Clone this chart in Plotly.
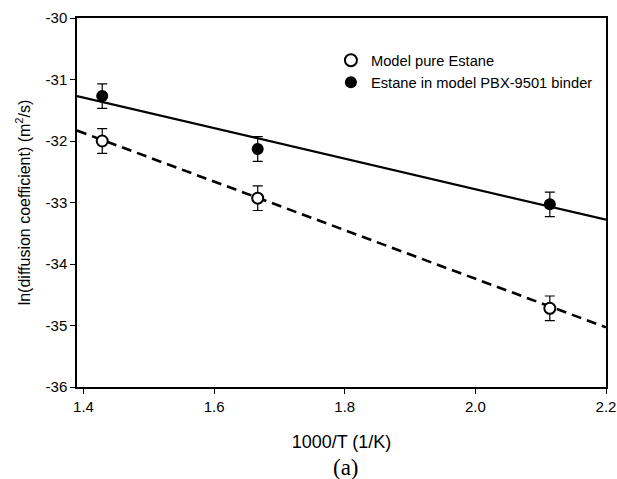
import plotly.graph_objects as go

# Data
x_T = [1.4286, 1.6667, 2.114]
pure_y = [-32.0, -32.93, -34.72]
pure_err = [0.2, 0.2, 0.2]
binder_y = [-31.27, -32.13, -33.03]
binder_err = [0.2, 0.2, 0.2]

fit_x = [1.39, 2.2]
pure_fit_y = [-31.83, -35.03]
binder_fit_y = [-31.27, -33.28]

x_ticks = [1.4, 1.6, 1.8, 2.0, 2.2]
x_ticklabels = ["1.4", "1.6", "1.8", "2.0", "2.2"]
y_ticks = [-36, -35, -34, -33, -32, -31, -30]
y_ticklabels = ["-36", "-35", "-34", "-33", "-32", "-31", "-30"]

FONT = "Liberation Sans, Arial, sans-serif"

fig = go.Figure()

fig.add_trace(go.Scatter(x=fit_x, y=binder_fit_y, mode="lines",
                         line=dict(color="black", width=2.2), showlegend=False, hoverinfo="skip"))
fig.add_trace(go.Scatter(x=fit_x, y=pure_fit_y, mode="lines",
                         line=dict(color="black", width=2.6, dash="10px,6px"),
                         showlegend=False, hoverinfo="skip"))

fig.add_trace(go.Scatter(
    x=x_T, y=pure_y, mode="markers", name="Model pure Estane",
    marker=dict(symbol="circle", size=11, color="white", line=dict(color="black", width=2)),
    error_y=dict(type="data", array=pure_err, visible=True, color="black", thickness=1.2, width=5),
))
fig.add_trace(go.Scatter(
    x=x_T, y=binder_y, mode="markers", name="Estane in model PBX-9501 binder",
    marker=dict(symbol="circle", size=12, color="black", line=dict(color="black", width=0)),
    error_y=dict(type="data", array=binder_err, visible=True, color="black", thickness=1.2, width=5),
))

axis_common = dict(
    showline=True, linecolor="black", linewidth=1.5, mirror=True,
    ticks="outside", ticklen=5, tickwidth=1.2, tickcolor="black",
    showgrid=False, zeroline=False, ticklabeloverflow="allow",
    tickfont=dict(family=FONT, size=15, color="black"),
)

fig.update_xaxes(range=[1.39, 2.2], tickvals=x_ticks, ticktext=x_ticklabels,
                 title=dict(text="1000/T (1/K)", font=dict(family=FONT, size=18, color="black"), standoff=22),
                 **axis_common)
fig.update_yaxes(range=[-36, -30], tickvals=y_ticks, ticktext=y_ticklabels,
                 title=dict(text="ln(diffusion coefficient) (m<sup>2</sup>/s)",
                            font=dict(family=FONT, size=16, color="black"), standoff=11),
                 **axis_common)

fig.add_annotation(text="(a)", xref="paper", yref="paper", x=0.0, y=-0.218,
                   xshift=269, xanchor="center", yanchor="middle", showarrow=False,
                   font=dict(family="Liberation Serif, Times New Roman, serif", size=23, color="black"))

fig.update_layout(
    width=617, height=479,
    margin=dict(l=77, r=11, t=18, b=92, autoexpand=False),
    paper_bgcolor="white", plot_bgcolor="white",
    font=dict(family=FONT, size=15, color="black"),
    legend=dict(x=0.48, y=0.929, xanchor="left", yanchor="top",
                bgcolor="rgba(0,0,0,0)", font=dict(family=FONT, size=14.7, color="black"),
                itemsizing="constant", tracegroupgap=0),
)

fig.write_html("out.html", config={"displayModeBar": False},
               post_script="document.body.style.margin='0';document.body.style.padding='0';")
